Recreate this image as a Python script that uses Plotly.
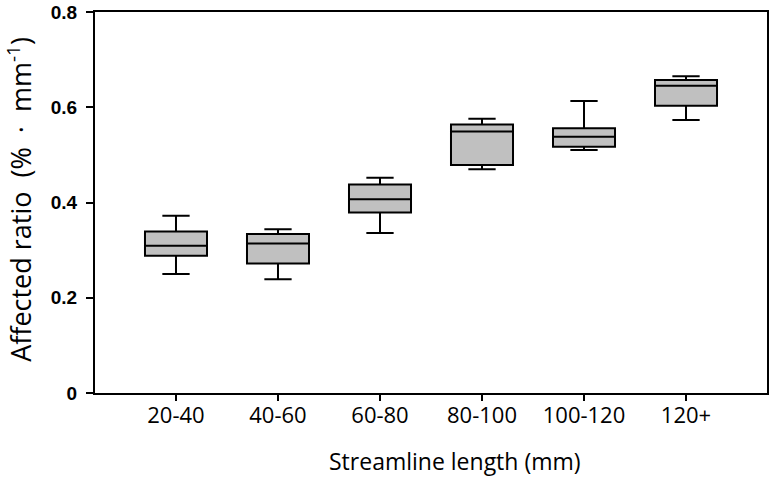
import plotly.graph_objects as go

categories = ["20-40", "40-60", "60-80", "80-100", "100-120", "120+"]
lower_whisker = [0.250, 0.239, 0.336, 0.470, 0.510, 0.573]
q1_values = [0.288, 0.272, 0.379, 0.479, 0.517, 0.603]
medians = [0.309, 0.314, 0.407, 0.549, 0.538, 0.645]
q3_values = [0.339, 0.334, 0.438, 0.564, 0.556, 0.657]
upper_whisker = [0.372, 0.344, 0.452, 0.576, 0.613, 0.665]
y_ticks = [0, 0.2, 0.4, 0.6, 0.8]
y_tick_text = ["0", "0.2", "0.4", "0.6", "0.8"]
y_title = "Affected ratio  (%  ·  mm<sup>-1</sup>)"
x_title = "Streamline length (mm)"

fig = go.Figure()
fig.add_trace(go.Box(
    x=categories,
    q1=q1_values, median=medians, q3=q3_values,
    lowerfence=lower_whisker, upperfence=upper_whisker,
    fillcolor="#c0c0c0",
    line=dict(color="black", width=2),
    width=0.608,
    whiskerwidth=0.44,
    boxpoints=False,
    showlegend=False,
    hoverinfo="skip",
))

fig.update_layout(
    width=771, height=477,
    margin=dict(l=95, r=4, t=12, b=84, autoexpand=False),
    plot_bgcolor="white", paper_bgcolor="white",
    xaxis=dict(
        type="category",
        range=[-0.794, 5.794],
        ticks="outside", ticklen=6, tickwidth=2, tickcolor="black",
        showline=True, linecolor="black", linewidth=2, mirror=True,
        showgrid=False, zeroline=False, automargin=False,
        ticklabelstandoff=-4,
        tickfont=dict(family="Open Sans", size=22, color="black"),
    ),
    yaxis=dict(
        range=[0, 0.8],
        tickmode="array", tickvals=y_ticks, ticktext=y_tick_text,
        ticks="outside", ticklen=7, tickwidth=2, tickcolor="black",
        showline=True, linecolor="black", linewidth=2, mirror=True,
        showgrid=False, zeroline=False, automargin=False,
        ticklabelstandoff=5,
        tickfont=dict(family="Liberation Sans", size=19, color="black", weight="bold"),
    ),
    annotations=[
        dict(
            text=y_title, textangle=-90,
            xref="paper", yref="paper", x=-0.1116, y=0.507,
            xanchor="center", yanchor="middle", showarrow=False,
            font=dict(family="Open Sans", size=27, color="black"),
        ),
        dict(
            text=x_title,
            xref="paper", yref="paper", x=0.535, y=-0.178,
            xanchor="center", yanchor="middle", showarrow=False,
            borderpad=0,
            font=dict(family="Open Sans", size=23, color="black"),
        ),
    ],
)

fig.write_html("out.html", config={"displayModeBar": False},
               post_script="document.body.style.margin='0';")
